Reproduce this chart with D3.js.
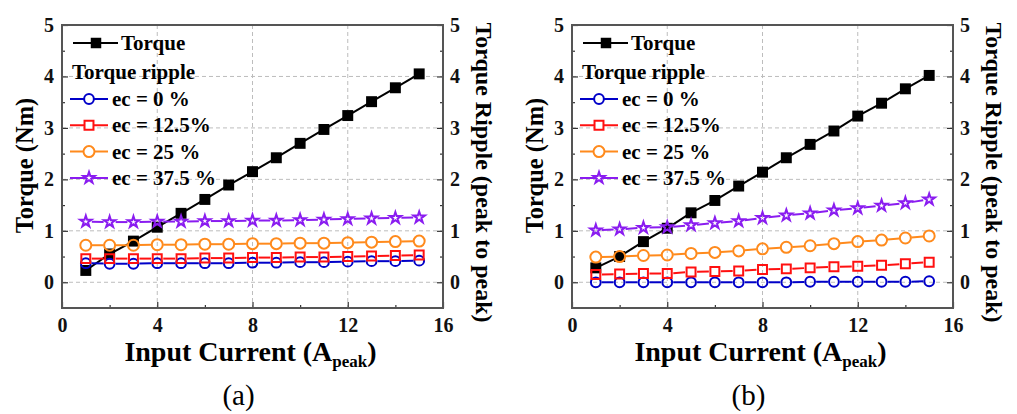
<!DOCTYPE html>
<html>
<head>
<meta charset="utf-8">
<script src="https://cdn.jsdelivr.net/npm/d3@7"></script>
<style>
  body { margin: 0; background: #fff; }
  svg, svg text { font-family: "Liberation Serif", "Times New Roman", serif; }
  .tick text { font-size: 20px; font-weight: bold; fill: #111; }
  .domain { display: none; }
</style>
</head>
<body>
<svg id="chart" width="1017" height="414"></svg>
<script>
const current = [1, 2, 3, 4, 5, 6, 7, 8, 9, 10, 11, 12, 13, 14, 15];
const xTicks = [0, 4, 8, 12, 16];
const yTicks = [0, 1, 2, 3, 4, 5];
const seriesNames = ['ec = 0 %', 'ec = 12.5%', 'ec = 25 %', 'ec = 37.5 %'];

// panel (a)
const torqueA = [0.23, 0.55, 0.80, 1.07, 1.34, 1.61, 1.89, 2.15, 2.42, 2.70, 2.97, 3.24, 3.51, 3.78, 4.05];
const rippleA0 = [0.37, 0.36, 0.36, 0.37, 0.37, 0.37, 0.37, 0.38, 0.38, 0.39, 0.39, 0.40, 0.41, 0.41, 0.42];
const rippleA125 = [0.46, 0.46, 0.46, 0.46, 0.46, 0.47, 0.47, 0.48, 0.48, 0.49, 0.49, 0.50, 0.51, 0.52, 0.53];
const rippleA25 = [0.72, 0.72, 0.72, 0.73, 0.73, 0.74, 0.74, 0.75, 0.75, 0.76, 0.76, 0.77, 0.78, 0.79, 0.80];
const rippleA375 = [1.18, 1.17, 1.17, 1.18, 1.18, 1.19, 1.19, 1.20, 1.20, 1.21, 1.22, 1.23, 1.24, 1.25, 1.26];

// panel (b)
const torqueB = [0.28, 0.50, 0.79, 1.05, 1.35, 1.59, 1.87, 2.14, 2.42, 2.68, 2.94, 3.23, 3.48, 3.76, 4.02];
const rippleB0 = [0.00, 0.00, 0.00, 0.00, 0.00, 0.00, 0.00, 0.00, 0.00, 0.01, 0.01, 0.01, 0.01, 0.01, 0.02];
const rippleB125 = [0.15, 0.16, 0.17, 0.17, 0.20, 0.21, 0.22, 0.25, 0.26, 0.28, 0.30, 0.31, 0.33, 0.36, 0.39];
const rippleB25 = [0.49, 0.50, 0.52, 0.53, 0.56, 0.58, 0.61, 0.65, 0.68, 0.71, 0.75, 0.79, 0.82, 0.86, 0.90];
const rippleB375 = [1.01, 1.03, 1.06, 1.07, 1.11, 1.15, 1.19, 1.25, 1.30, 1.34, 1.40, 1.44, 1.49, 1.54, 1.61];

const colors = ['#0000c8', '#ff1010', '#ff8a1c', '#8a1cf0'];
const shapes = [d3.symbolCircle, d3.symbolSquare, d3.symbolCircle, d3.symbolStar];
const sizes = [75, 80, 95, 40];

const panels = [
  { left: 62, label: '(a)', torque: torqueA, ripple: [rippleA0, rippleA125, rippleA25, rippleA375] },
  { left: 572, label: '(b)', torque: torqueB, ripple: [rippleB0, rippleB125, rippleB25, rippleB375] }
];

const plotW = 381;
const plotTop = 25;
const plotBottom = 308;

const svg = d3.select('#chart');

// line drawn as segments with a small gap around each symbol
const drawSeries = (g, xs, ys, color, shape, size, filled, x, y, gap) => {
  const pts = xs.map((d, i) => [x(d), y(ys[i])]);
  for (let i = 0; i < pts.length - 1; i++) {
    const [x1, y1] = pts[i];
    const [x2, y2] = pts[i + 1];
    const len = Math.hypot(x2 - x1, y2 - y1);
    const ux = (x2 - x1) / len, uy = (y2 - y1) / len;
    g.append('line')
      .attr('x1', x1 + ux * gap).attr('y1', y1 + uy * gap)
      .attr('x2', x2 - ux * gap).attr('y2', y2 - uy * gap)
      .attr('stroke', color)
      .attr('stroke-width', 2);
  }
  g.selectAll(null)
    .data(pts)
    .enter()
    .append('path')
    .attr('transform', d => `translate(${d[0]},${d[1]})`)
    .attr('d', d3.symbol().type(shape).size(size))
    .attr('fill', filled ? color : 'none')
    .attr('stroke', color)
    .attr('stroke-width', filled ? 0 : 2);
};

panels.forEach(p => {
  const x = d3.scaleLinear().domain([0, 16]).range([p.left, p.left + plotW]);
  const y = d3.scaleLinear().domain([-0.5, 5]).range([plotBottom, plotTop]);
  const g = svg.append('g');

  // grid
  g.selectAll('.gx')
    .data(xTicks.slice(1, -1))
    .enter()
    .append('line')
    .attr('x1', d => x(d)).attr('x2', d => x(d))
    .attr('y1', plotTop).attr('y2', plotBottom)
    .attr('stroke', '#bdbdbd')
    .attr('stroke-dasharray', '4,3');
  g.selectAll('.gy')
    .data(yTicks.slice(0, -1))
    .enter()
    .append('line')
    .attr('x1', p.left).attr('x2', p.left + plotW)
    .attr('y1', d => y(d)).attr('y2', d => y(d))
    .attr('stroke', '#bdbdbd')
    .attr('stroke-dasharray', '4,3');

  // axes, ticks pointing inside
  const fmt = d3.format('d');
  const axes = g.append('g');
  axes.append('g')
    .attr('transform', `translate(0, ${plotBottom})`)
    .call(d3.axisBottom(x).tickValues(xTicks).tickSize(-6).tickPadding(10).tickFormat(fmt));
  axes.append('g')
    .attr('transform', `translate(0, ${plotBottom})`)
    .call(d3.axisBottom(x).tickValues([2, 6, 10, 14]).tickSize(-3).tickFormat(''));
  axes.append('g')
    .attr('transform', `translate(${p.left}, 0)`)
    .call(d3.axisLeft(y).tickValues(yTicks).tickSize(-6).tickPadding(8).tickFormat(fmt));
  axes.append('g')
    .attr('transform', `translate(${p.left}, 0)`)
    .call(d3.axisLeft(y).tickValues([0.5, 1.5, 2.5, 3.5, 4.5]).tickSize(-3).tickFormat(''));
  axes.append('g')
    .attr('transform', `translate(${p.left + plotW}, 0)`)
    .call(d3.axisRight(y).tickValues(yTicks).tickSize(-6).tickPadding(7).tickFormat(fmt));
  axes.append('g')
    .attr('transform', `translate(${p.left + plotW}, 0)`)
    .call(d3.axisRight(y).tickValues([0.5, 1.5, 2.5, 3.5, 4.5]).tickSize(-3).tickFormat(''));
  axes.selectAll('g').attr('font-family', null).attr('font-size', null);
  axes.selectAll('.tick line').attr('stroke', '#333').attr('stroke-width', 1.2);

  g.append('rect')
    .attr('x', p.left).attr('y', plotTop)
    .attr('width', plotW).attr('height', plotBottom - plotTop)
    .attr('fill', 'none')
    .attr('stroke', '#555')
    .attr('stroke-width', 2);

  // data
  drawSeries(g, current, p.torque, '#000', d3.symbolSquare, 120, true, x, y, 3);
  p.ripple.forEach((vals, i) => {
    drawSeries(g, current, vals, colors[i], shapes[i], sizes[i], false, x, y, 6);
  });

  // axis titles
  g.append('text')
    .attr('transform', `translate(${p.left - 29}, ${(plotTop + plotBottom) / 2 - 1}) rotate(-90)`)
    .attr('text-anchor', 'middle')
    .attr('font-size', 24.5).attr('font-weight', 'bold')
    .text('Torque (Nm)');
  g.append('text')
    .attr('transform', `translate(${p.left + plotW + 33}, ${(plotTop + plotBottom) / 2 + 6}) rotate(90)`)
    .attr('text-anchor', 'middle')
    .attr('font-size', 24).attr('font-weight', 'bold')
    .text('Torque Ripple (peak to peak)');
  const xt = g.append('text')
    .attr('x', p.left + plotW / 2 - 2).attr('y', 361)
    .attr('text-anchor', 'middle')
    .attr('font-size', 28).attr('font-weight', 'bold');
  xt.append('tspan').text('Input Current (A');
  xt.append('tspan').attr('font-size', 17).attr('dy', 6).text('peak');
  xt.append('tspan').attr('dy', -6).text(')');
  g.append('text')
    .attr('x', p.left + plotW / 2 - 14).attr('y', 405)
    .attr('text-anchor', 'middle')
    .attr('font-size', 29)
    .text(p.label);

  // legend
  const lg = g.append('g').attr('font-size', 21).attr('font-weight', 'bold');
  const lx = p.left;
  lg.append('line')
    .attr('x1', lx + 11).attr('x2', lx + 56).attr('y1', 43).attr('y2', 43)
    .attr('stroke', '#000').attr('stroke-width', 2);
  lg.append('path')
    .attr('transform', `translate(${lx + 34}, 43)`)
    .attr('d', d3.symbol().type(d3.symbolSquare).size(110));
  lg.append('text').attr('x', lx + 59).attr('y', 50).text('Torque');
  lg.append('text').attr('x', lx + 10).attr('y', 79).text('Torque ripple');
  seriesNames.forEach((name, i) => {
    const ly = 99 + i * 26.3;
    lg.append('line')
      .attr('x1', lx + 8).attr('x2', lx + 46).attr('y1', ly).attr('y2', ly)
      .attr('stroke', colors[i]).attr('stroke-width', 2);
    lg.append('path')
      .attr('transform', `translate(${lx + 27}, ${ly})`)
      .attr('d', d3.symbol().type(shapes[i]).size(sizes[i]))
      .attr('fill', '#fff')
      .attr('stroke', colors[i]).attr('stroke-width', 2);
    lg.append('text').attr('x', lx + 50).attr('y', ly + 7).text(name);
  });
});
</script>
</body>
</html>
